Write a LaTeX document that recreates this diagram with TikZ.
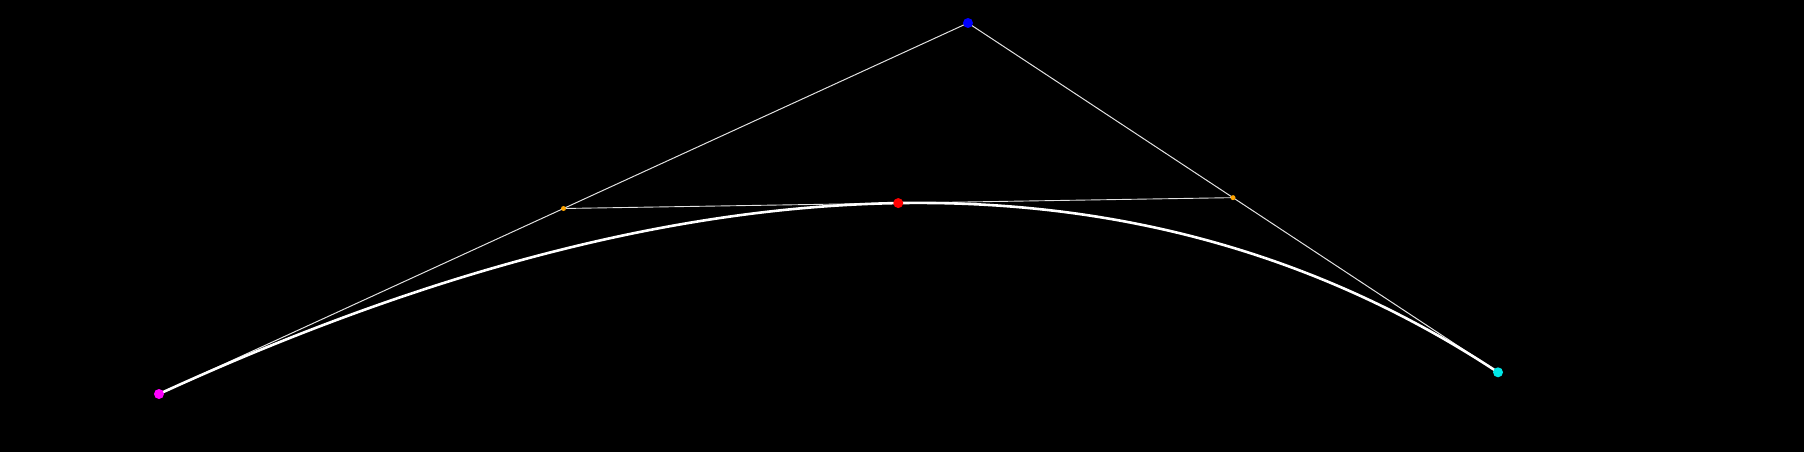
\documentclass[tikz,border=0pt]{standalone}
\usetikzlibrary{calc}
\definecolor{pmag}{RGB}{255,0,255}
\definecolor{pblue}{RGB}{0,0,255}
\definecolor{pcyan}{RGB}{0,230,230}
\definecolor{pred}{RGB}{255,0,0}
\definecolor{porange}{RGB}{255,165,0}
\definecolor{pline}{RGB}{225,225,225}
\begin{document}
\begin{tikzpicture}[x=1pt,y=-1pt,
  guide/.style={draw=pline,line width=1pt},
  curveline/.style={draw=white,line width=2.6pt},
  dot/.style={circle,inner sep=0pt,minimum size=10pt},
  smalldot/.style={circle,inner sep=0pt,minimum size=5pt,fill=porange}]
\fill[black] (0,0) rectangle (1804,452);
\useasboundingbox (0,0) rectangle (1804,452);
\coordinate (p0) at (159,394);
\coordinate (p1) at (968,23);
\coordinate (p2) at (1498,372.3);
\coordinate (q0) at ($(p0)!0.5!(p1)$);
\coordinate (q1) at ($(p1)!0.5!(p2)$);
\coordinate (m) at ($(q0)!0.5!(q1)$);
\draw[guide] (p0) -- (p1) -- (p2);
\draw[guide,line width=0.9pt] (q0) -- (q1);
\draw[curveline] (p0) .. controls ($(p0)!2/3!(p1)$) and ($(p2)!2/3!(p1)$) .. (p2);
\node[smalldot] (a) at (q0) {};
\node[smalldot] (b) at (q1) {};
\node[dot,fill=pmag] (n0) at (p0) {};
\node[dot,fill=pblue] (n1) at (p1) {};
\node[dot,fill=pcyan] (n2) at (p2) {};
\node[dot,fill=pred] (nm) at (m) {};
\end{tikzpicture}
\end{document}
